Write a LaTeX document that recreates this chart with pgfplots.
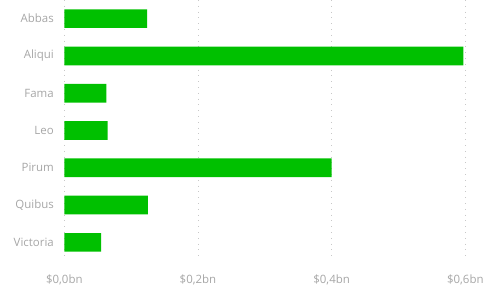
\documentclass[border=0pt]{standalone}
\usepackage{fontspec}
\setmainfont{Open Sans}
\usepackage{pgfplots}
\pgfplotsset{compat=1.18}
\definecolor{barg}{HTML}{00C000}
\definecolor{lbl}{HTML}{A6A6A6}
\definecolor{grd}{HTML}{C8C8C8}
\begin{document}
\begin{tikzpicture}
\begin{axis}[name=ax, scale only axis, width=401bp, height=261bp,
 xbar, bar width=18.7bp, y dir=reverse,
 xmin=0, xmax=0.6, ymin=-0.5, ymax=6.5,
 ytick={0,...,6}, yticklabels={Abbas,Aliqui,Fama,Leo,Pirum,Quibus,Victoria},
 xtick={0,0.2,0.4,0.6}, xticklabels={{\$0,0bn},{\$0,2bn},{\$0,4bn},{\$0,6bn}},
 axis line style={draw=none}, major tick length=0pt,
 xmajorgrids, grid style={grd, line width=0.8bp, dash pattern=on 0.8bp off 5bp},
 tick label style={font=\fontsize{11.5}{13}\selectfont, text=lbl},
 yticklabel style={xshift=-7bp},
 xticklabel style={yshift=-10bp},
]
\addplot[fill=barg, draw=none] coordinates {(0.124,0) (0.597,1) (0.063,2) (0.065,3) (0.400,4) (0.125,5) (0.055,6)};
\end{axis}
\pgfresetboundingbox
\path ([shift={(-64.3bp,-26bp)}]ax.south west) rectangle ([shift={(20.7bp,0bp)}]ax.north east);
\end{tikzpicture}
\end{document}
